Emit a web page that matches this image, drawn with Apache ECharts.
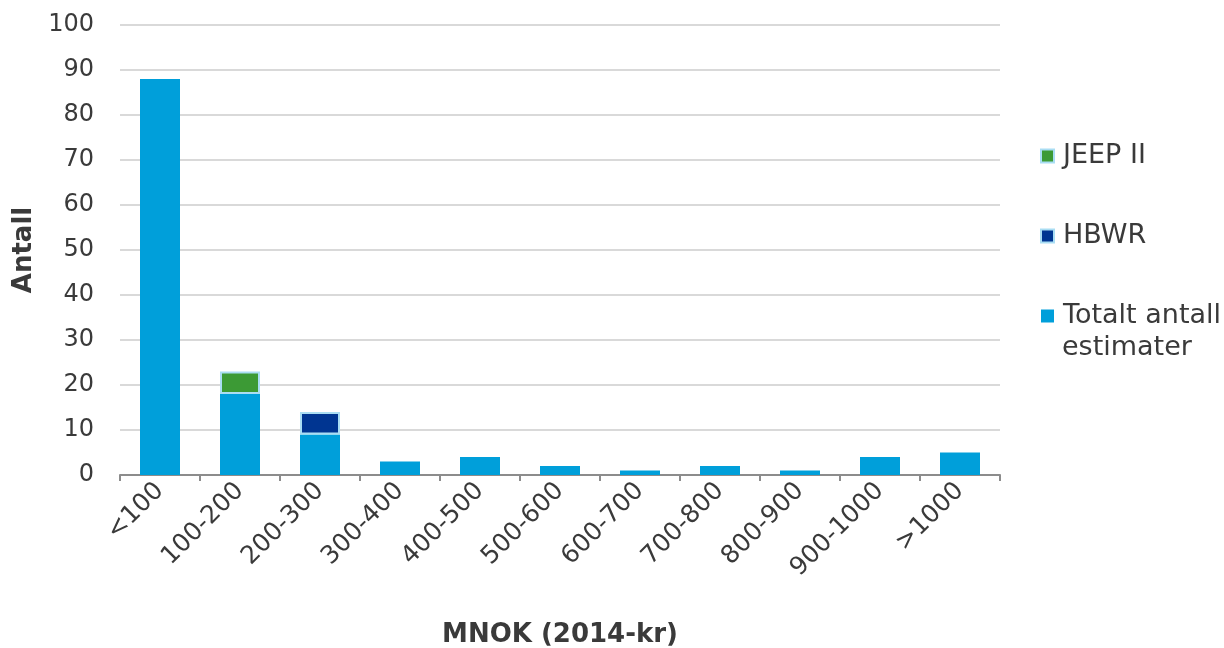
<!DOCTYPE html>
<html>
<head>
<meta charset="utf-8">
<script src="https://cdn.jsdelivr.net/npm/echarts@6/dist/echarts.min.js"></script>
<style>
  html, body { margin: 0; padding: 0; background: #fff; overflow: hidden; }
  #chart { width: 1224px; height: 648px; }
</style>
</head>
<body>
<div id="chart"></div>
<script>
// Cost intervals (MNOK, 2014-kr)
const categories = ['<100', '100-200', '200-300', '300-400', '400-500', '500-600',
  '600-700', '700-800', '800-900', '900-1000', '>1000'];
// Total number of estimates per interval
const totalt = [88, 18, 9, 3, 4, 2, 1, 2, 1, 4, 5];
// HBWR estimates (stacked on top)
const hbwr = [0, 0, 5, 0, 0, 0, 0, 0, 0, 0, 0];
// JEEP II estimates (stacked on top)
const jeep = [0, 5, 0, 0, 0, 0, 0, 0, 0, 0, 0];
const yTicks = { min: 0, max: 100, interval: 10 };

const FONT = '"DejaVu Sans", Verdana, sans-serif';
const TEXT = '#3a3a3a';
const TOTAL_NAME = 'Totalt antall estimater';

const chart = echarts.init(document.getElementById('chart'), null, { renderer: 'canvas' });
chart.setOption({
  animation: false,
  textStyle: { fontFamily: FONT },
  grid: { left: 120, right: 224, top: 25, bottom: 173, outerBoundsMode: 'none', containLabel: false },
  legend: {
    orient: 'vertical',
    left: 1035,
    top: 135,
    itemGap: 48,
    itemWidth: 13,
    itemHeight: 13,
    icon: 'rect',
    data: ['JEEP II', 'HBWR', TOTAL_NAME],
    // first line of the long name next to the marker; second line drawn below
    formatter: name => name === TOTAL_NAME ? 'Totalt antall' : name,
    textStyle: { fontFamily: FONT, fontSize: 27, color: TEXT, lineHeight: 32, padding: [0, 0, 0, 4] }
  },
  graphic: [{
    type: 'text',
    left: 1062,
    top: 334,
    style: { text: 'estimater', font: '27px "DejaVu Sans", Verdana, sans-serif', fill: TEXT }
  }],
  xAxis: {
    type: 'category',
    data: categories,
    name: 'MNOK (2014-kr)',
    nameLocation: 'middle',
    nameGap: 147,
    nameTextStyle: { fontFamily: FONT, fontSize: 26, fontWeight: 'bold', color: TEXT },
    axisLine: { lineStyle: { color: '#8c8c8c', width: 2 } },
    axisTick: { show: true, alignWithLabel: false, length: 6, lineStyle: { color: '#8c8c8c', width: 2 } },
    axisLabel: { rotate: 45, fontSize: 25, color: TEXT, margin: 12, interval: 0 }
  },
  yAxis: {
    type: 'value',
    min: yTicks.min,
    max: yTicks.max,
    interval: yTicks.interval,
    name: 'Antall',
    nameLocation: 'middle',
    nameGap: 82,
    nameRotate: 90,
    nameTextStyle: { fontFamily: FONT, fontSize: 26, fontWeight: 'bold', color: TEXT },
    axisLine: { show: false },
    axisTick: { show: false },
    axisLabel: { fontSize: 24, color: TEXT, margin: 26 },
    splitLine: { lineStyle: { color: '#d9d9d9', width: 2 } }
  },
  series: [
    {
      name: TOTAL_NAME,
      type: 'bar',
      stack: 'a',
      barWidth: '50%',
      data: totalt,
      itemStyle: { color: '#009fda' }
    },
    {
      name: 'HBWR',
      type: 'bar',
      stack: 'a',
      data: hbwr.map(v => v || null),
      itemStyle: { color: '#003591', borderColor: '#a9ddf3', borderWidth: 2 }
    },
    {
      name: 'JEEP II',
      type: 'bar',
      stack: 'a',
      data: jeep.map(v => v || null),
      itemStyle: { color: '#3c9a35', borderColor: '#a9ddf3', borderWidth: 2 }
    }
  ]
});
</script>
</body>
</html>
